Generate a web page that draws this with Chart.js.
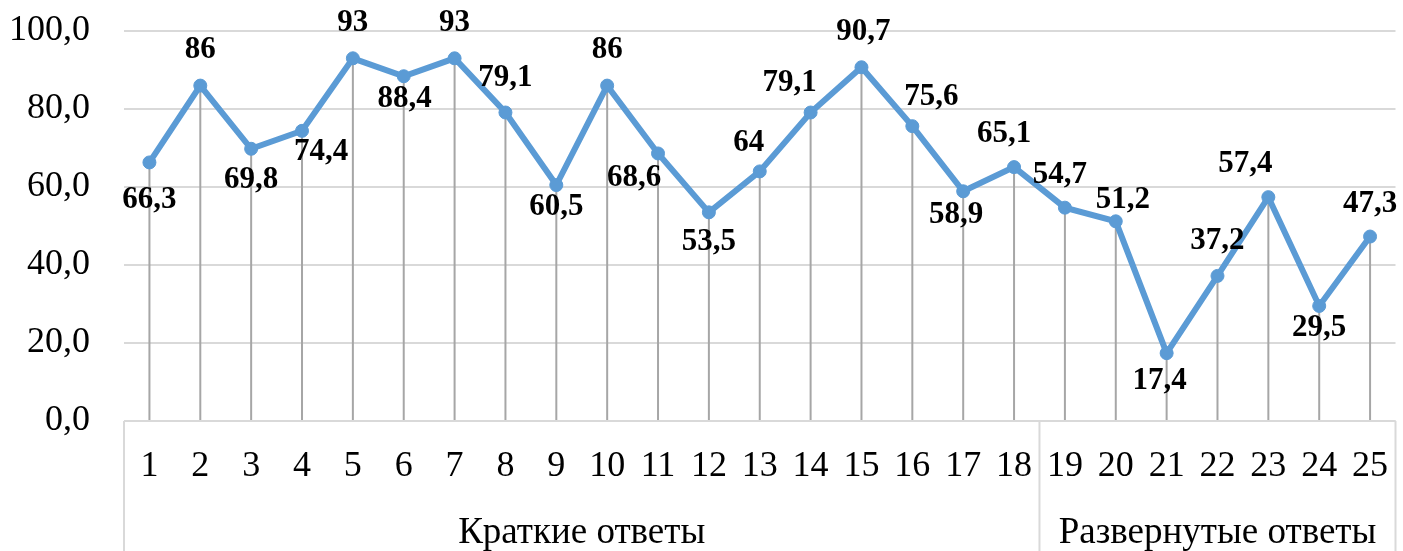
<!DOCTYPE html>
<html>
<head>
<meta charset="utf-8">
<script src="https://cdn.jsdelivr.net/npm/chart.js@4.4.1/dist/chart.umd.min.js"></script>
<style>
  html, body { margin: 0; padding: 0; background: #fff; }
  #wrap { width: 1403px; height: 551px; }
</style>
</head>
<body>
<div id="wrap"><canvas id="chart" width="1403" height="551"></canvas></div>
<script>
const questions = ['1', '2', '3', '4', '5', '6', '7', '8', '9', '10', '11', '12', '13',
  '14', '15', '16', '17', '18', '19', '20', '21', '22', '23', '24', '25'];
const scores = [66.3, 86, 69.8, 74.4, 93, 88.4, 93, 79.1, 60.5, 86, 68.6, 53.5, 64,
  79.1, 90.7, 75.6, 58.9, 65.1, 54.7, 51.2, 17.4, 37.2, 57.4, 29.5, 47.3];
const groupNames = ['Краткие ответы', 'Развернутые ответы'];
const groupSizes = [18, 7];
const yMin = 0;
const yMax = 100;
const yStep = 20;

// label placement relative to each point [dx, dy]
const labelShift = [
  [0, 38], [0, -36], [0, 31], [19, 21], [0, -35], [1, 23], [0, -35], [0, -35],
  [0, 22], [0, -36], [-24, 25], [0, 30], [-11, -28], [-21, -30], [2, -35],
  [19, -29], [-7, 24], [-10, -33], [-5, -33], [7, -21], [-7, 28], [0, -35],
  [-23, -33], [0, 22], [0, -33]
];

const FONT = "'Times New Roman', 'Liberation Serif', serif";
Chart.defaults.font.family = FONT;
Chart.defaults.color = '#000';

const fmt = v => String(v).replace('.', ',');

const dropLines = {
  id: 'dropLines',
  beforeDatasetsDraw(chart) {
    const ctx = chart.ctx;
    const bottom = chart.chartArea.bottom;
    ctx.save();
    ctx.strokeStyle = '#a6a6a6';
    ctx.lineWidth = 2;
    chart.getDatasetMeta(0).data.forEach(p => {
      ctx.beginPath();
      ctx.moveTo(p.x, p.y);
      ctx.lineTo(p.x, bottom);
      ctx.stroke();
    });
    ctx.restore();
  }
};

const valueLabels = {
  id: 'valueLabels',
  afterDatasetsDraw(chart) {
    const ctx = chart.ctx;
    ctx.save();
    ctx.font = 'bold 31px ' + FONT;
    ctx.fillStyle = '#000';
    ctx.textAlign = 'center';
    ctx.textBaseline = 'middle';
    chart.getDatasetMeta(0).data.forEach((p, i) => {
      const s = labelShift[i];
      ctx.fillText(fmt(scores[i]), p.x + s[0], p.y + s[1]);
    });
    ctx.restore();
  }
};

const groupAxis = {
  id: 'groupAxis',
  afterDraw(chart) {
    const ctx = chart.ctx;
    const x = chart.scales.x;
    const top = chart.chartArea.bottom;
    const bottom = chart.height;
    const edges = [x.left];
    let n = 0;
    groupSizes.forEach(size => {
      n += size;
      edges.push(n >= questions.length ? x.right
        : (x.getPixelForTick(n - 1) + x.getPixelForTick(n)) / 2);
    });
    ctx.save();
    ctx.strokeStyle = '#d9d9d9';
    ctx.lineWidth = 2;
    ctx.beginPath();
    ctx.moveTo(x.left, top);
    ctx.lineTo(x.right, top);
    edges.forEach(e => {
      ctx.moveTo(e, top);
      ctx.lineTo(e, bottom);
    });
    ctx.stroke();
    ctx.font = '37px ' + FONT;
    ctx.fillStyle = '#000';
    ctx.textAlign = 'center';
    ctx.textBaseline = 'middle';
    groupNames.forEach((name, i) => {
      ctx.fillText(name, (edges[i] + edges[i + 1]) / 2, 533);
    });
    ctx.restore();
  }
};

new Chart(document.getElementById('chart'), {
  type: 'line',
  data: {
    labels: questions,
    datasets: [{
      data: scores,
      borderColor: '#5b9bd5',
      backgroundColor: '#5b9bd5',
      borderWidth: 6,
      pointRadius: 6.5,
      pointBorderWidth: 1,
      pointBorderColor: '#5b9bd5',
      pointBackgroundColor: '#5b9bd5',
      tension: 0
    }]
  },
  options: {
    responsive: false,
    animation: false,
    devicePixelRatio: 1,
    layout: { padding: { top: 31, right: -2.5, left: 0, bottom: 0 } },
    plugins: {
      legend: { display: false },
      tooltip: { enabled: false }
    },
    scales: {
      x: {
        offset: true,
        grid: {
          color: 'rgba(0,0,0,0)', offset: true,
          drawTicks: true, tickLength: 24, tickColor: 'rgba(0,0,0,0)'
        },
        border: { display: false },
        ticks: { font: { size: 36 }, padding: 0, maxRotation: 0, autoSkip: false },
        afterFit(scale) { scale.height = 130; }
      },
      y: {
        min: yMin,
        max: yMax,
        grid: {
          color: '#d9d9d9', lineWidth: 2,
          drawTicks: true, tickLength: 34, tickColor: 'rgba(0,0,0,0)'
        },
        border: { display: false },
        ticks: {
          stepSize: yStep,
          font: { size: 36 },
          padding: 0,
          callback: v => v.toFixed(1).replace('.', ',')
        },
        afterFit(scale) { scale.width = 124; }
      }
    }
  },
  plugins: [dropLines, valueLabels, groupAxis]
});
</script>
</body>
</html>
